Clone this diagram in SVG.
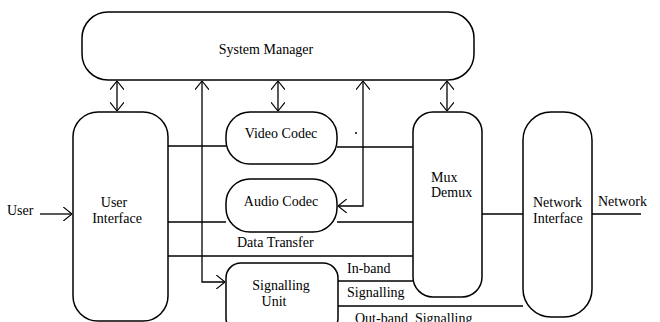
<svg xmlns="http://www.w3.org/2000/svg" width="660" height="322" viewBox="0 0 660 322">
<style>
.box{fill:none;stroke:#000;stroke-width:1.5}
.ln{fill:none;stroke:#000;stroke-width:1.3}
text{font-family:"Liberation Serif","Times New Roman",serif;font-size:14px;fill:#000}
.c{text-anchor:middle}
</style>
<defs>
<marker id="ar" viewBox="0 0 10 16" refX="10" refY="8" markerWidth="9" markerHeight="14" markerUnits="userSpaceOnUse" orient="auto-start-reverse">
<path d="M0,0 L10,8 L0,16" fill="none" stroke="#000" stroke-width="1.3"/>
</marker>
</defs>
<rect width="660" height="322" fill="#fff"/>
<g id="connectors">
<line class="ln" x1="117" y1="81" x2="117" y2="111" marker-start="url(#ar)" marker-end="url(#ar)"/>
<line class="ln" x1="278" y1="81" x2="278" y2="111" marker-start="url(#ar)" marker-end="url(#ar)"/>
<line class="ln" x1="447" y1="81" x2="447" y2="111" marker-start="url(#ar)" marker-end="url(#ar)"/>
<polyline class="ln" points="202,81 202,282 225,282" marker-start="url(#ar)" marker-end="url(#ar)"/>
<polyline class="ln" points="363,81 363,206 338,206" marker-start="url(#ar)" marker-end="url(#ar)"/>
<line class="ln" x1="40" y1="214" x2="72" y2="214" marker-end="url(#ar)"/>
<line class="ln" x1="168" y1="146" x2="226" y2="146"/>
<line class="ln" x1="337" y1="147" x2="413" y2="147"/>
<line class="ln" x1="168" y1="222" x2="226" y2="222"/>
<line class="ln" x1="337" y1="222" x2="413" y2="222"/>
<line class="ln" x1="168" y1="256" x2="413" y2="256"/>
<line class="ln" x1="338" y1="281" x2="413" y2="281"/>
<line class="ln" x1="338" y1="306" x2="523" y2="306"/>
<line class="ln" x1="482" y1="214" x2="523" y2="214"/>
<line class="ln" x1="592" y1="214" x2="641" y2="214"/>
<circle cx="356" cy="133" r="1" fill="#000"/>
<text x="237" y="247">Data Transfer</text>
<text x="347" y="273">In-band</text>
<text x="347" y="297">Signalling</text>
<text x="355" y="323" xml:space="preserve">Out-band  Signalling</text>
<text x="7" y="215">User</text>
<text x="598" y="206">Network</text>
</g>
<g id="system-manager">
<rect class="box" x="82" y="12" width="392" height="68" rx="26"/>
<text class="c" x="266" y="54">System Manager</text>
</g>
<g id="user-interface">
<rect class="box" x="73" y="112" width="95" height="209" rx="25"/>
<text class="c" x="114" y="207">User</text>
<text class="c" x="117" y="223">Interface</text>
</g>
<g id="video-codec">
<rect class="box" x="226" y="112" width="111" height="52" rx="24"/>
<text class="c" x="281" y="138">Video Codec</text>
</g>
<g id="audio-codec">
<rect class="box" x="226" y="179" width="111" height="53" rx="24"/>
<text class="c" x="281" y="206">Audio Codec</text>
</g>
<g id="signalling-unit">
<rect class="box" x="226" y="263" width="112" height="70" rx="15"/>
<text class="c" x="281" y="290">Signalling</text>
<text class="c" x="274" y="306">Unit</text>
</g>
<g id="mux-demux">
<rect class="box" x="413" y="112" width="69" height="185" rx="20"/>
<text x="431" y="182">Mux</text>
<text x="431" y="197">Demux</text>
</g>
<g id="network-interface">
<rect class="box" x="523" y="112" width="69" height="205" rx="28"/>
<text x="533" y="207">Network</text>
<text x="533" y="223">Interface</text>
</g>
</svg>
